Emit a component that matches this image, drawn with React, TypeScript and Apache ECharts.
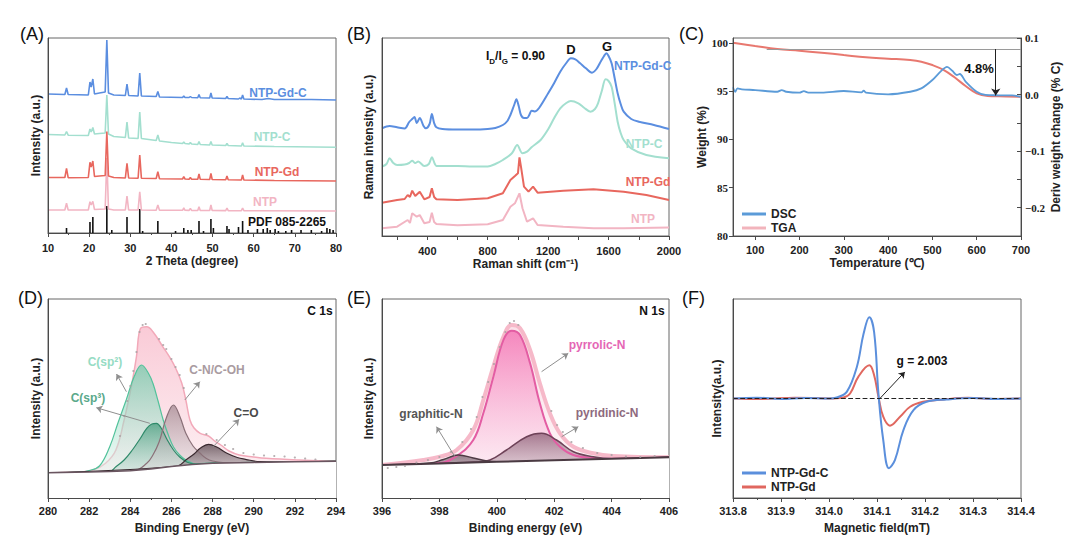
import React, { useEffect, useRef } from 'react';
import * as echarts from 'echarts';

// ---------------- Panel A: XRD ----------------
const XRD_NTP_GD_C = [
  [10, 139], [14.1, 138.5], [14.5, 145], [14.9, 138.5],
  [19.8, 138], [20.2, 151], [20.5, 146], [20.9, 154], [21.3, 139],
  [22.5, 140], [23.9, 141], [24.3, 193], [24.7, 140], [26, 138],
  [28.8, 137.5], [29.2, 149], [29.6, 137.5],
  [31.9, 137], [32.3, 160], [32.7, 137],
  [36.3, 136.5], [36.7, 141.5], [37.1, 136],
  [42.7, 135.5], [43, 137], [43.3, 135.5], [44.3, 135.5], [44.6, 136.5], [44.9, 135.5],
  [46.4, 135.3], [46.7, 138.5], [47, 135.3],
  [49.3, 135], [49.6, 140], [49.9, 135],
  [53.2, 134.5], [53.5, 136.5], [53.8, 134.5],
  [56.3, 134], [56.6, 135], [57, 134], [57.3, 138], [57.6, 134],
  [62, 133.5], [63.5, 134.5], [65, 133.5], [74, 133.5], [80, 133],
];
const XRD_NTP_C = [
  [10, 98.5], [14.1, 98], [14.5, 101.5], [14.9, 97.8],
  [19.8, 97.5], [20.2, 104], [20.5, 101], [20.9, 105.5], [21.3, 99],
  [22.5, 99.5], [23.9, 100], [24.3, 138], [24.7, 99], [26, 96.5],
  [28.8, 95.5], [29.2, 111], [29.6, 95],
  [31.9, 94.5], [32.3, 121], [32.7, 94.5],
  [36.3, 92.5], [36.7, 98], [37.1, 92],
  [40, 90.5], [42.7, 89.5], [43, 91], [43.3, 89.5], [44.3, 89], [44.6, 90.5], [44.9, 89],
  [46.4, 88.5], [46.7, 91.5], [47, 88.5],
  [49.3, 88], [49.6, 91.5], [49.9, 88],
  [53.2, 87.5], [53.5, 89.7], [53.8, 87.5],
  [57, 87], [57.3, 90.3], [57.6, 87],
  [65, 86.5], [80, 85.7],
];
const XRD_NTP_GD = [
  [10, 55.5], [14.1, 55.5], [14.5, 64.7], [14.9, 55.3],
  [19.8, 55.5], [20.2, 70.7], [20.5, 66], [20.9, 72], [21.3, 56.5],
  [22.5, 57], [23.9, 57.5], [24.3, 101.5], [24.7, 57], [26, 55.5],
  [28.8, 55], [29.2, 69.7], [29.6, 55],
  [31.9, 54.8], [32.3, 78], [32.7, 54.8],
  [36.3, 54.5], [36.7, 61.3], [37.1, 54.3],
  [42.7, 54], [43, 56.3], [43.3, 54], [44.3, 53.8], [44.6, 55.5], [44.9, 53.8],
  [46.4, 53.7], [46.7, 59], [47, 53.7],
  [49.3, 53.5], [49.6, 59.7], [49.9, 53.5],
  [53.2, 53.2], [53.5, 57], [53.8, 53.2],
  [57, 53], [57.3, 58], [57.6, 53],
  [65, 52.5], [80, 52],
];
const XRD_NTP = [
  [10, 23], [14.1, 23], [14.5, 29.7], [14.9, 23],
  [19.8, 23], [20.2, 31.3], [20.5, 28], [20.9, 31.7], [21.3, 23.5],
  [23.9, 24], [24.3, 75], [24.7, 24], [26, 23],
  [28.8, 23], [29.2, 37], [29.6, 23],
  [31.9, 23], [32.3, 41.3], [32.7, 23],
  [36.3, 22.8], [36.7, 28], [37.1, 22.8],
  [42.7, 22.7], [43, 25], [43.3, 22.7], [44.3, 22.6], [44.6, 24.5], [44.9, 22.6],
  [46.4, 22.5], [46.7, 26.3], [47, 22.5],
  [49.3, 22.5], [49.6, 28], [49.9, 22.5],
  [53.2, 22.4], [53.5, 25], [53.8, 22.4],
  [57, 22.3], [57.3, 25], [57.6, 22.3],
  [80, 22],
];
const PDF_STICKS = [
  [14.5, 5], [20.2, 11], [20.9, 16], [24.3, 27], [25.5, 3], [29.2, 16], [32.3, 24], [33.0, 2],
  [36.7, 12], [41.0, 2], [43.0, 5], [44.0, 3], [44.8, 3], [46.7, 12], [47.8, 2], [49.6, 14],
  [50.2, 5], [53.5, 7], [54.0, 4], [56.3, 6], [57.3, 12], [58.6, 3], [60.9, 4], [62.3, 4],
  [63.3, 5], [64.0, 3], [65.2, 4], [66.0, 2], [67.8, 2], [69.2, 3], [71.5, 3], [74.0, 3],
  [76.5, 2], [77.8, 5], [78.5, 4], [79.3, 3],
];

// ---------------- Panel B: Raman ----------------
const RAMAN_NTP_GD_C = [
  [100, 107.7], [150, 110], [200, 108.7], [250, 107.5], [280, 114], [300, 117], [315, 119], [330, 113],
  [350, 118], [375, 110], [390, 107.7], [415, 112], [430, 122], [445, 113], [460, 108.7], [500, 107],
  [600, 106.5], [700, 106.5], [800, 107], [850, 108], [900, 111], [930, 115], [950, 121], [975, 131],
  [990, 136.7], [1005, 130], [1020, 121], [1040, 118], [1060, 118], [1075, 121], [1090, 125.3],
  [1110, 124.5], [1140, 128], [1200, 142.7], [1240, 153], [1280, 164.3], [1320, 173], [1350, 177.7],
  [1380, 176.7], [1410, 173], [1450, 167.7], [1490, 163.3], [1520, 167], [1550, 175], [1570, 180],
  [1585, 182.7], [1600, 180], [1620, 172.7], [1640, 158], [1660, 142.7], [1680, 132], [1700, 124.3],
  [1750, 117], [1800, 114.3], [1900, 111], [2000, 107],
];
const RAMAN_NTP_C = [
  [100, 69.3], [130, 72], [150, 77.7], [175, 73], [200, 71], [250, 71.5], [280, 73], [300, 75.3],
  [320, 73], [340, 74.5], [380, 70], [410, 72], [430, 78.7], [450, 72], [460, 70], [600, 70],
  [700, 69.5], [800, 69.5], [850, 72], [900, 76], [960, 82.7], [995, 91], [1030, 82.7], [1060, 84.3],
  [1090, 88.7], [1150, 96], [1200, 106.7], [1240, 118], [1280, 127.7], [1320, 133], [1350, 135],
  [1400, 132.7], [1440, 128], [1480, 124.3], [1510, 127], [1530, 132.7], [1555, 145], [1580, 156.7],
  [1600, 155], [1620, 149.3], [1640, 133], [1660, 114.3], [1680, 103], [1700, 96], [1750, 87.7],
  [1850, 81], [2000, 77.7],
];
const RAMAN_NTP_GD = [
  [100, 33.3], [200, 36], [250, 37], [270, 41], [285, 39], [300, 45.3], [320, 40], [350, 44.3],
  [380, 36.7], [415, 39], [430, 47.7], [445, 39], [460, 36.7], [600, 36], [800, 37.7], [900, 42.7],
  [950, 56], [980, 60], [1000, 62.7], [1010, 78.7], [1020, 69.3], [1040, 49.3], [1070, 44.3],
  [1100, 49.3], [1130, 43.3], [1300, 45.3], [1500, 46.7], [1700, 44.3], [1850, 41], [2000, 36],
];
const RAMAN_NTP = [
  [100, 7.7], [200, 9.3], [270, 16], [285, 13], [300, 22.7], [330, 19.3], [350, 21], [380, 12.7],
  [415, 14], [430, 23.3], [445, 14], [460, 12], [600, 10.7], [800, 11.7], [900, 16], [950, 29.3],
  [980, 32.7], [1000, 39.3], [1010, 42.7], [1030, 27.7], [1060, 14.3], [1100, 17.7], [1130, 11],
  [1300, 9.3], [1500, 7.7], [1700, 7.7], [2000, 8.5],
];
const RAMAN_TICKS = [200, 400, 600, 800, 1000, 1200, 1400, 1600, 1800, 2000];
const RAMAN_LABELS = [400, 800, 1200, 1600, 2000];

// ---------------- Panel C: TGA / DSC ----------------
const TGA = [
  [50, 100.0], [100, 99.67], [150, 99.36], [200, 99.19], [250, 98.98], [300, 98.74], [350, 98.5],
  [400, 98.36], [450, 98.22], [475, 98.05], [500, 97.7], [525, 97.2], [550, 96.43], [575, 95.53],
  [600, 94.77], [625, 94.5], [650, 94.46], [700, 94.42],
];
const DSC = [
  [50, 0.0128], [55, 0.005], [60, 0.011], [70, 0.0093], [100, 0.008], [150, 0.005], [160, 0.008],
  [170, 0.005], [200, 0.0033], [210, 0.006], [220, 0.0035], [250, 0.0035], [300, 0.0063], [340, 0.004],
  [345, 0.007], [350, 0.0033], [400, 0.0005], [450, 0.005], [475, 0.011], [500, 0.0258], [520, 0.042],
  [533, 0.049], [545, 0.042], [555, 0.0346], [562, 0.0364], [575, 0.023], [600, 0.005], [620, -0.0007],
  [650, -0.0013], [680, -0.0015], [700, -0.004],
];
const TEMP_TICKS = [100, 200, 300, 400, 500, 600, 700];
const WEIGHT_TICKS = [80, 85, 90, 95, 100];
const DERIV_LABELS = [-0.2, -0.1, 0, 0.1];
const DERIV_TICKS = [-0.2, -0.15, -0.1, -0.05, 0, 0.05, 0.1];

// ---------------- Panel D: C 1s ----------------
const C1S_BASE = [
  [280, 25.3], [282, 26], [283, 26.5], [284, 27.2], [285, 29], [286, 31.5], [287, 33.5], [288, 34.8],
  [290, 35.6], [292, 36.2], [294, 36.7],
];
const C1S_ENVELOPE = [
  [280, 25.3], [281.5, 26], [282.2, 28], [282.8, 34.7], [283.3, 48], [283.7, 78], [284.05, 111.3],
  [284.3, 141.3], [284.5, 169.7], [284.8, 171.3], [285.1, 166.3], [285.6, 150.7], [285.9, 141.3],
  [286.2, 130], [286.5, 115], [286.7, 98], [286.9, 78], [287.1, 70], [287.4, 64.7], [287.8, 62],
  [288.1, 57], [288.4, 53], [288.8, 47], [289.3, 43], [290, 41], [290.6, 39.7], [292.2, 38], [294, 36.7],
];
const C1S_SP2 = [
  [280, 25.3], [281.5, 26], [282, 27.5], [282.5, 32], [283, 51.3], [283.4, 75], [283.8, 98],
  [284.2, 122], [284.55, 133], [284.9, 124], [285.1, 114.7], [285.35, 97], [285.6, 78], [285.85, 63],
  [286.1, 51], [286.4, 43], [286.7, 38], [287.2, 34.2], [288, 35], [290, 35.6], [294, 36.7],
];
const C1S_SP3 = [
  [280, 25.3], [283, 26.5], [283.3, 31.3], [283.7, 38], [284.1, 48], [284.5, 60], [284.8, 69.7],
  [285.05, 74], [285.27, 74.7], [285.5, 70], [285.8, 58], [286.1, 48], [286.4, 41], [286.8, 35.5],
  [287.2, 34], [288, 34.8], [294, 36.7],
];
const C1S_CN = [
  [280, 25.3], [284.2, 27.5], [284.8, 34.7], [285.1, 43], [285.4, 56], [285.75, 80], [286.1, 93],
  [286.4, 82], [286.7, 64.7], [287.05, 52], [287.4, 44.7], [287.7, 39.5], [288, 37], [288.5, 35.5],
  [290, 35.6], [294, 36.7],
];
const C1S_CO = [
  [280, 25.3], [286.3, 32], [286.7, 38], [287.1, 44], [287.4, 49.7], [287.8, 53.7], [288.2, 51],
  [288.7, 44.7], [289.2, 40.5], [289.6, 38.7], [290.3, 36.3], [291, 36], [294, 36.7],
];
const C1S_RAW = [
  [283.5, 62], [283.7, 82], [283.85, 97], [284.0, 112], [284.15, 127], [284.3, 146], [284.45, 166],
  [284.6, 173], [284.75, 174], [285.4, 159], [285.6, 153], [285.75, 149], [286.0, 139], [286.2, 131],
  [286.4, 123], [286.6, 110], [287.7, 64], [288.2, 58], [288.6, 53], [289, 49], [289.5, 45], [290, 43.5],
  [290.5, 42.5], [291, 42], [291.5, 41.5], [292, 40.5], [292.5, 39.5], [293, 38.5],
];

// ---------------- Panel E: N 1s ----------------
const N1S_BASE = [[396, 33], [398, 34.5], [400, 36.2], [402, 37.7], [404, 39.2], [406, 40.7]];
const N1S_ENVELOPE = [
  [396, 33], [397.44, 38], [398.02, 41.3], [398.6, 48], [399.18, 68], [399.53, 98], [399.88, 131.3],
  [400.23, 161.3], [400.52, 173], [400.81, 169.7], [401.16, 148], [401.5, 114.7], [401.85, 84.7],
  [402.2, 64.7], [402.67, 51.3], [403.36, 44.7], [404.06, 42], [406, 40.7],
];
const N1S_PYRROLIC = [
  [396, 33], [398.02, 35], [398.6, 42], [399.18, 58], [399.53, 84.7], [399.88, 121.3], [400.23, 158],
  [400.52, 167.3], [400.81, 163], [401.16, 134.7], [401.5, 94.7], [401.85, 64.7], [402.2, 51.3],
  [402.67, 43], [403.36, 40], [404, 39.2], [406, 40.7],
];
const N1S_PYRIDINIC = [
  [396, 33], [399.2, 35.9], [399.76, 38], [400.34, 48], [401.04, 61.3], [401.56, 64.7], [402.08, 58],
  [402.67, 46.3], [403.36, 41.3], [404, 39.3], [406, 40.7],
];
const N1S_GRAPHITIC = [
  [396, 33], [397.67, 35], [398.14, 38.5], [398.66, 43], [399.18, 40], [399.65, 37], [400, 36.2],
  [406, 40.7],
];
const N1S_RAW = [
  [396.2, 30], [396.5, 31], [396.8, 32], [397.2, 35.5], [397.6, 38], [398.0, 41], [398.4, 46], [398.8, 56],
  [399.1, 69], [399.3, 81], [399.5, 101], [399.7, 116], [399.9, 134], [400.1, 151], [400.3, 166],
  [400.45, 175], [400.6, 177], [400.75, 173], [401.9, 87], [402.1, 73], [402.3, 66], [402.6, 56],
  [403, 50], [403.5, 45], [404, 43], [404.5, 41.5], [405, 41], [405.5, 42],
];

// ---------------- Panel F: EPR ----------------
const EPR_NTP_GD_C = [
  [313.8, 0], [313.85, 0.8], [313.9, -0.5], [313.95, 0.6], [314.0, 0], [314.016, 1], [314.037, 6.7],
  [314.058, 31.7], [314.072, 65], [314.084, 81.7], [314.094, 66.7], [314.103, 5], [314.113, -41.7],
  [314.125, -70], [314.1375, -61.7], [314.155, -31.7], [314.176, -11.7], [314.203, -3.3],
  [314.245, -1], [314.3, 0.4], [314.35, -0.6], [314.4, 0],
];
const EPR_NTP_GD = [
  [313.8, 0], [313.86, -0.5], [313.93, 0.8], [314.0, 0], [314.03, 1], [314.044, 5], [314.061, 21.7],
  [314.084, 33.3], [314.094, 23.3], [314.103, 1.7], [314.113, -18.3], [314.127, -27.3],
  [314.148, -18.3], [314.169, -8.3], [314.196, -3.3], [314.238, -1], [314.29, 0.7], [314.34, -0.4],
  [314.4, 0],
];

const FONT = "'Liberation Sans', Arial, Helvetica, sans-serif";
const SERIF = "'Liberation Serif', 'Times New Roman', serif";
const AX = '#4a4a4a';

const BLUE = '#5b8ee0';
const CYAN = '#a3dfcf';
const RED = '#e8675e';
const PINK = '#f2b5c3';

function axis(gi: number, o: any) {
  return {
    type: 'value',
    gridIndex: gi,
    min: o.min,
    max: o.max,
    interval: o.interval,
    position: o.position,
    name: o.name,
    nameLocation: 'middle',
    nameGap: o.nameGap,
    nameRotate: o.nameRotate,
    nameTextStyle: { fontFamily: FONT, fontSize: 12, fontWeight: 'bold', color: '#222' },
    axisLine: { show: true, onZero: false, lineStyle: { color: AX, width: 1 } },
    axisTick: {
      show: o.ticks !== false,
      inside: !!o.inside,
      length: 4,
      lineStyle: { color: AX },
      customValues: o.tickValues,
    },
    minorTick: { show: !!o.minor, splitNumber: o.minor || 5, length: 2, lineStyle: { color: AX } },
    axisLabel: {
      show: o.labels !== false,
      fontFamily: o.font || FONT,
      fontSize: 11,
      fontWeight: 'bold',
      color: '#222',
      margin: o.margin ?? 7,
      formatter: o.formatter || ((v: number) => String(v)),
      customValues: o.labelValues,
    },
    splitLine: { show: false },
    z: 5,
  };
}

function grad(top: string, bottom: string) {
  return new echarts.graphic.LinearGradient(0, 0, 0, 1, [
    { offset: 0, color: top },
    { offset: 1, color: bottom },
  ]);
}

function line(name: string, xi: number, yi: number, data: any, color: string, width: number, extra: any = {}) {
  return {
    type: 'line',
    name,
    xAxisIndex: xi,
    yAxisIndex: yi,
    data,
    showSymbol: false,
    symbol: 'none',
    lineStyle: { color, width },
    itemStyle: { color },
    silent: true,
    ...extra,
  };
}

function txt(text: string, x: number, y: number, fill: string, size = 12, weight: any = 'bold', align = 'center') {
  return {
    type: 'text',
    x,
    y,
    z: 100,
    silent: true,
    style: {
      text,
      fill,
      fontSize: size,
      fontWeight: weight,
      fontFamily: FONT,
      align,
      verticalAlign: 'middle',
      textAlign: align,
      textVerticalAlign: 'middle',
    },
  };
}

function arrowLine(color: string, items: number[][][]) {
  return {
    silent: true,
    symbol: ['none', 'arrow'],
    symbolSize: 6,
    label: { show: false },
    lineStyle: { color, width: 1, type: 'solid' },
    data: items.map(([a, b]) => [{ coord: a }, { coord: b }]),
  };
}

function fmtDeriv(v: number) {
  if (Math.abs(v) < 1e-9) return '0.0';
  return v < 0 ? '\u2212' + Math.abs(v).toFixed(1) : v.toFixed(1);
}

function buildOption(): any {
  const grid = [
    { left: 48, top: 38, width: 288, height: 195 },
    { left: 382, top: 38, width: 287, height: 198 },
    { left: 733, top: 38, width: 288, height: 198 },
    { left: 48, top: 299, width: 288, height: 199 },
    { left: 382, top: 299, width: 287, height: 199 },
    { left: 733, top: 299, width: 288, height: 199 },
  ].map((g) => ({ ...g, show: true, borderColor: '#666', borderWidth: 1, backgroundColor: 'transparent' }));

  const xAxis = [
    axis(0, { min: 10, max: 80, interval: 10, minor: 2, name: '2 Theta (degree)', nameGap: 22, margin: 9 }),
    axis(1, { min: 100, max: 2000, tickValues: RAMAN_TICKS, labelValues: RAMAN_LABELS, name: 'Raman shift (cm\u207B\u00B9)', nameGap: 22, margin: 9 }),
    axis(2, { min: 50, max: 700, tickValues: TEMP_TICKS, labelValues: TEMP_TICKS, name: 'Temperature (\u2103)', nameGap: 21, margin: 8 }),
    axis(3, { min: 280, max: 294, interval: 2, minor: 2, name: 'Binding Energy (eV)', nameGap: 24, margin: 7 }),
    axis(4, { min: 396, max: 406, interval: 2, minor: 2, name: 'Binding energy (eV)', nameGap: 24, margin: 7 }),
    axis(5, { min: 313.8, max: 314.4, interval: 0.1, minor: 2, name: 'Magnetic field(mT)', nameGap: 24, margin: 7, formatter: (v: number) => v.toFixed(1) }),
  ];
  const yAxis = [
    axis(0, { min: 0, max: 195, labels: false, ticks: false, name: 'Intensity (a.u.)', nameGap: 6 }),
    axis(1, { min: 0, max: 198, labels: false, ticks: false, name: 'Raman intensity (a.u.)', nameGap: 7 }),
    axis(2, { min: 80, max: 100.5, tickValues: WEIGHT_TICKS, labelValues: WEIGHT_TICKS, font: SERIF, name: 'Weight (%)', nameGap: 23, margin: 5 }),
    axis(2, { position: 'right', min: -0.25, max: 0.1, inside: true, tickValues: DERIV_TICKS, labelValues: DERIV_LABELS, font: SERIF, formatter: fmtDeriv, name: 'Deriv weight change (% C)', nameGap: 29, nameRotate: 90, margin: 4 }),
    axis(3, { min: 0, max: 199, labels: false, ticks: false, name: 'Intensity (a.u.)', nameGap: 6 }),
    axis(4, { min: 0, max: 199, labels: false, ticks: false, name: 'Intensity (a.u.)', nameGap: 7 }),
    axis(5, { min: -100, max: 100, labels: false, ticks: false, name: 'Intensity(a.u.)', nameGap: 10 }),
  ];

  const series: any[] = [
    // A
    {
      type: 'bar', name: 'PDF 085-2265', xAxisIndex: 0, yAxisIndex: 0, data: PDF_STICKS,
      barWidth: 1.6, itemStyle: { color: '#111' }, silent: true,
    },
    line('XRD NTP', 0, 0, XRD_NTP, PINK, 1.6),
    line('XRD NTP-C', 0, 0, XRD_NTP_C, CYAN, 1.6),
    line('XRD NTP-Gd', 0, 0, XRD_NTP_GD, RED, 1.6),
    line('XRD NTP-Gd-C', 0, 0, XRD_NTP_GD_C, BLUE, 1.6),
    // B
    line('Raman NTP', 1, 1, RAMAN_NTP, PINK, 2),
    line('Raman NTP-Gd', 1, 1, RAMAN_NTP_GD, RED, 2),
    line('Raman NTP-C', 1, 1, RAMAN_NTP_C, CYAN, 2, { smooth: 0.3 }),
    line('Raman NTP-Gd-C', 1, 1, RAMAN_NTP_GD_C, BLUE, 2, { smooth: 0.3 }),
    // C
    line('TGA', 2, 2, TGA, '#e8786f', 2, {
      smooth: 0.4,
      markLine: {
        silent: true,
        symbol: ['none', 'none'],
        symbolSize: 7,
        label: { show: false },
        data: [
          [
            { coord: [126, 99.36], lineStyle: { color: '#9a9a9a', width: 1, type: 'solid' } },
            { coord: [700, 99.36] },
          ],
          [
            { coord: [643, 99.36], lineStyle: { color: '#222', width: 1, type: 'solid' } },
            { coord: [643, 94.55], symbol: 'arrow' },
          ],
        ],
      },
    }),
    line('DSC', 2, 3, DSC, '#5b9bd8', 1.8, { smooth: 0.3 }),
    // D
    line('C1s envelope', 3, 4, C1S_ENVELOPE, '#f2a9b9', 1.5, {
      smooth: 0.4, z: 1, areaStyle: { color: grad('rgba(247,176,194,0.95)', 'rgba(253,236,240,0.8)') },
    }),
    line('C(sp2)', 3, 4, C1S_SP2, '#52c29b', 1.2, {
      smooth: 0.4, z: 2, areaStyle: { color: grad('rgba(96,200,163,0.95)', 'rgba(255,255,255,0.6)') },
    }),
    line('C(sp3)', 3, 4, C1S_SP3, '#2f8a6a', 1.2, {
      smooth: 0.4, z: 2, areaStyle: { color: grad('rgba(52,146,112,0.95)', 'rgba(255,255,255,0.45)') },
    }),
    line('C-N/C-OH', 3, 4, C1S_CN, '#8a7078', 1.2, {
      smooth: 0.4, z: 2, areaStyle: { color: grad('rgba(150,124,133,0.95)', 'rgba(255,255,255,0.45)') },
    }),
    line('C=O', 3, 4, C1S_CO, '#3a2a30', 1.2, {
      smooth: 0.4, z: 2, areaStyle: { color: grad('rgba(58,40,48,0.95)', 'rgba(255,255,255,0.3)') },
    }),
    line('C1s background', 3, 4, C1S_BASE, '#6a5560', 1.5, {
      z: 3, areaStyle: { color: '#ffffff', opacity: 1 },
    }),
    {
      type: 'scatter', name: 'C1s raw', xAxisIndex: 3, yAxisIndex: 4, data: C1S_RAW, symbolSize: 2.2,
      itemStyle: { color: '#a8a0a3' }, z: 4, silent: true,
      markLine: arrowLine('#8f8f8f', [
        [[283.81, 106.3], [283.33, 124]],
        [[284.95, 74.7], [282.35, 90.3]],
        [[286.65, 98], [287.38, 116.3]],
        [[288.03, 51.3], [289.29, 78.7]],
      ]),
    },
    // E
    line('N1s envelope', 4, 5, N1S_ENVELOPE, '#f6b9c9', 4, {
      smooth: 0.4, z: 1, areaStyle: { color: grad('rgba(249,205,218,0.9)', 'rgba(253,240,244,0.8)') },
    }),
    line('pyrrolic-N', 4, 5, N1S_PYRROLIC, '#e35da3', 2, {
      smooth: 0.4, z: 2, areaStyle: { color: grad('rgba(242,90,168,0.95)', 'rgba(255,255,255,0.6)') },
    }),
    line('pyridinic-N', 4, 5, N1S_PYRIDINIC, '#6e4258', 1.5, {
      smooth: 0.4, z: 2, areaStyle: { color: grad('rgba(122,74,98,0.95)', 'rgba(255,255,255,0.5)') },
    }),
    line('graphitic-N', 4, 5, N1S_GRAPHITIC, '#4e3a44', 1.5, {
      smooth: 0.4, z: 2, areaStyle: { color: grad('rgba(90,68,80,0.9)', 'rgba(255,255,255,0.5)') },
    }),
    line('N1s background', 4, 5, N1S_BASE, '#4a3a42', 2, {
      z: 3, areaStyle: { color: '#ffffff', opacity: 1 },
    }),
    {
      type: 'scatter', name: 'N1s raw', xAxisIndex: 4, yAxisIndex: 5, data: N1S_RAW, symbolSize: 2.2,
      itemStyle: { color: '#a8a0a3' }, z: 4, silent: true,
      markLine: arrowLine('#8f8f8f', [
        [[401.56, 126.3], [402.49, 144.7]],
        [[402.26, 61.3], [402.84, 71.3]],
        [[398.54, 41.3], [397.9, 71.3]],
      ]),
    },
    // F
    line('NTP-Gd ', 5, 6, EPR_NTP_GD, '#e0675f', 2, { smooth: 0.4 }),
    line('NTP-Gd-C ', 5, 6, EPR_NTP_GD_C, '#5b8fdc', 2, {
      smooth: 0.4,
      markLine: {
        silent: true,
        symbol: ['none', 'none'],
        symbolSize: 6,
        label: { show: false },
        data: [
          [
            { coord: [313.8, 0], lineStyle: { color: '#222', width: 1.2, type: 'dashed' } },
            { coord: [314.4, 0] },
          ],
          [
            { coord: [314.106, 0], lineStyle: { color: '#222', width: 1, type: 'solid' } },
            { coord: [314.158, 26.7], symbol: 'arrow' },
          ],
        ],
      },
    }),
  ];

  const legendText = { fontFamily: FONT, fontSize: 12, fontWeight: 'bold', color: '#222' };
  const legend = [
    {
      left: 737, top: 203, orient: 'vertical', itemGap: 2, itemWidth: 24, itemHeight: 3, icon: 'rect',
      textStyle: legendText, selectedMode: false,
      data: [{ name: 'DSC' }, { name: 'TGA', itemStyle: { color: '#f2b4bc' } }],
    },
    {
      left: 737, top: 462, orient: 'vertical', itemGap: 2, itemWidth: 24, itemHeight: 3, icon: 'rect',
      textStyle: legendText, selectedMode: false,
      data: [{ name: 'NTP-Gd-C ' }, { name: 'NTP-Gd ' }],
    },
  ];

  const graphic = {
    elements: [
      txt('(A)', 20, 34, '#111', 18, 'normal', 'left'),
      txt('(B)', 347, 34, '#111', 18, 'normal', 'left'),
      txt('(C)', 679, 34, '#111', 18, 'normal', 'left'),
      txt('(D)', 18, 298, '#111', 18, 'normal', 'left'),
      txt('(E)', 347, 298, '#111', 18, 'normal', 'left'),
      txt('(F)', 682, 298, '#111', 18, 'normal', 'left'),
      // A
      txt('NTP-Gd-C', 278, 93, BLUE),
      txt('NTP-C', 272, 137, CYAN),
      txt('NTP-Gd', 277, 172, RED),
      txt('NTP', 265, 202, PINK),
      txt('PDF 085-2265', 287, 221.5, '#111'),
      // B
      txt('NTP-Gd-C', 614, 66, BLUE, 12, 'bold', 'left'),
      txt('NTP-C', 644, 144, CYAN),
      txt('NTP-Gd', 648, 182, RED),
      txt('NTP', 643, 219, PINK),
      txt('D', 571, 49, '#111', 13),
      txt('G', 607, 46.5, '#111', 13),
      {
        type: 'text', x: 486, y: 58, z: 100, silent: true,
        style: {
          text: '{a|I}{b|D}{a|/I}{b|G}{a| = 0.90}',
          fill: '#111', align: 'left', verticalAlign: 'middle', textAlign: 'left', textVerticalAlign: 'middle',
          rich: {
            a: { fontSize: 12, fontWeight: 'bold', fontFamily: FONT, fill: '#111', lineHeight: 16, verticalAlign: 'top' },
            b: { fontSize: 8, fontWeight: 'bold', fontFamily: FONT, fill: '#111', lineHeight: 10, verticalAlign: 'top', padding: [7, 0, 0, 0] },
          },
        },
      },
      // C
      txt('4.8%', 979, 68, '#111', 13),
      // D
      txt('C 1s', 320, 311, '#111'),
      txt('C(sp\u00B2)', 105, 362, '#96dcc4'),
      txt('C(sp\u00B3)', 88, 398, '#5aa98b'),
      txt('C-N/C-OH', 217, 370, '#a99ba1'),
      txt('C=O', 246, 413, '#4a4a4a'),
      // E
      txt('N 1s', 652, 311, '#111'),
      txt('pyrrolic-N', 597, 345, '#e566b5'),
      txt('pyridinic-N', 607, 413, '#8e6a7e'),
      txt('graphitic-N', 431, 414, '#555'),
      // F
      txt('g = 2.003', 922, 361, '#111'),
    ],
  };

  return {
    animation: false,
    backgroundColor: '#ffffff',
    textStyle: { fontFamily: FONT },
    grid,
    xAxis,
    yAxis,
    series,
    legend,
    graphic,
  };
}

export default function App() {
  const ref = useRef<HTMLDivElement>(null);
  useEffect(() => {
    if (!ref.current) return;
    const chart = echarts.init(ref.current, null, { renderer: 'svg' });
    chart.setOption(buildOption());
    return () => chart.dispose();
  }, []);
  return (
    <div
      ref={ref}
      style={{ position: 'fixed', left: 0, top: 0, width: 1080, height: 547, background: '#fff' }}
    />
  );
}
